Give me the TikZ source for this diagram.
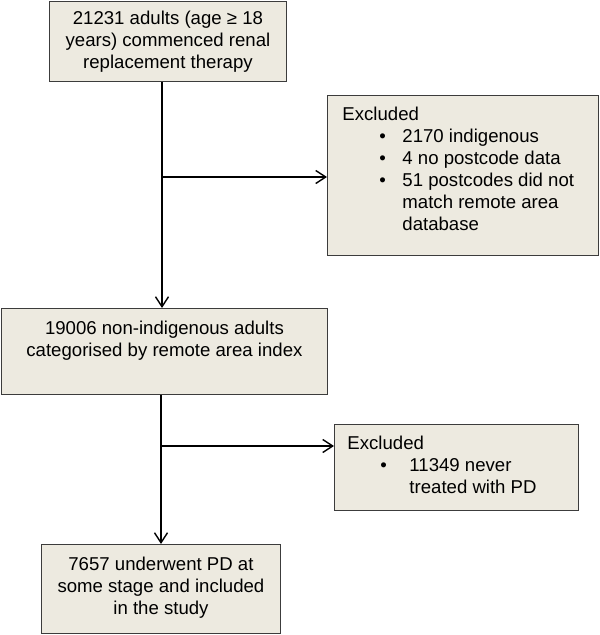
\documentclass[tikz,border=0pt]{standalone}
\usepackage{fontspec}
\setmainfont{Liberation Sans}
\usetikzlibrary{arrows.meta}
\definecolor{beige}{RGB}{237,234,224}
\definecolor{edge}{RGB}{60,60,60}
\newcommand{\tb}[4]{\parbox[c][#2pt][t]{#1pt}{\centering\rule{0pt}{#3pt}#4}}
\newcommand{\tl}[4]{\parbox[c][#2pt][t]{#1pt}{\raggedright\rule{0pt}{#3pt}#4}}
\begin{document}
\begin{tikzpicture}[x=1pt,y=-1pt,
  box/.style={draw=edge, fill=beige, line width=0.9pt, inner sep=0pt, anchor=north west,
    font=\fontsize{18.6}{22}\selectfont},
  arr/.style={line width=1.4pt, -{Straight Barb[length=10pt,width=13pt,line width=1.4pt]}},
  ln/.style={line width=1.4pt}]
\useasboundingbox (0,0) rectangle (600,635);
\node[box] (b1) at (49,1) {\tb{237}{80}{23.5}{21231 adults (age ≥ 18\\years) commenced renal\\replacement therapy}};
\node[box] (e1) at (327,95) {\tl{271}{160}{24.7}{\hspace*{15pt}Excluded\\
  \hspace*{52pt}\makebox[23pt][l]{\textbullet}2170 indigenous\\
  \hspace*{52pt}\makebox[23pt][l]{\textbullet}4 no postcode data\\
  \hspace*{52pt}\makebox[23pt][l]{\textbullet}51 postcodes did not\\
  \hspace*{75pt}match remote area\\
  \hspace*{75pt}database}};
\node[box] (b3) at (1,308) {\tb{326}{86}{25.7}{19006 non-indigenous adults\\categorised by remote area index}};
\node[box] (e2) at (334,424) {\tl{244}{86}{24.7}{\hspace*{13pt}Excluded\\
  \hspace*{46pt}\makebox[29pt][l]{\textbullet}11349 never\\
  \hspace*{75pt}treated with PD}};
\node[box] (b5) at (41,544) {\tb{239}{89}{25.7}{7657 underwent PD at\\some stage and included\\in the study}};
\coordinate (m1) at (162,0);
\coordinate (m2) at (161,0);
\coordinate (j1) at (162,177);
\coordinate (j2) at (161,446);
\draw[arr] (b1.south -| m1) -- (b3.north -| m1);
\draw[arr] (j1) -- (j1 -| e1.west);
\draw[arr] (b3.south -| m2) -- (b5.north -| m2);
\draw[arr] (j2) -- (j2 -| e2.west);
\end{tikzpicture}
\end{document}
